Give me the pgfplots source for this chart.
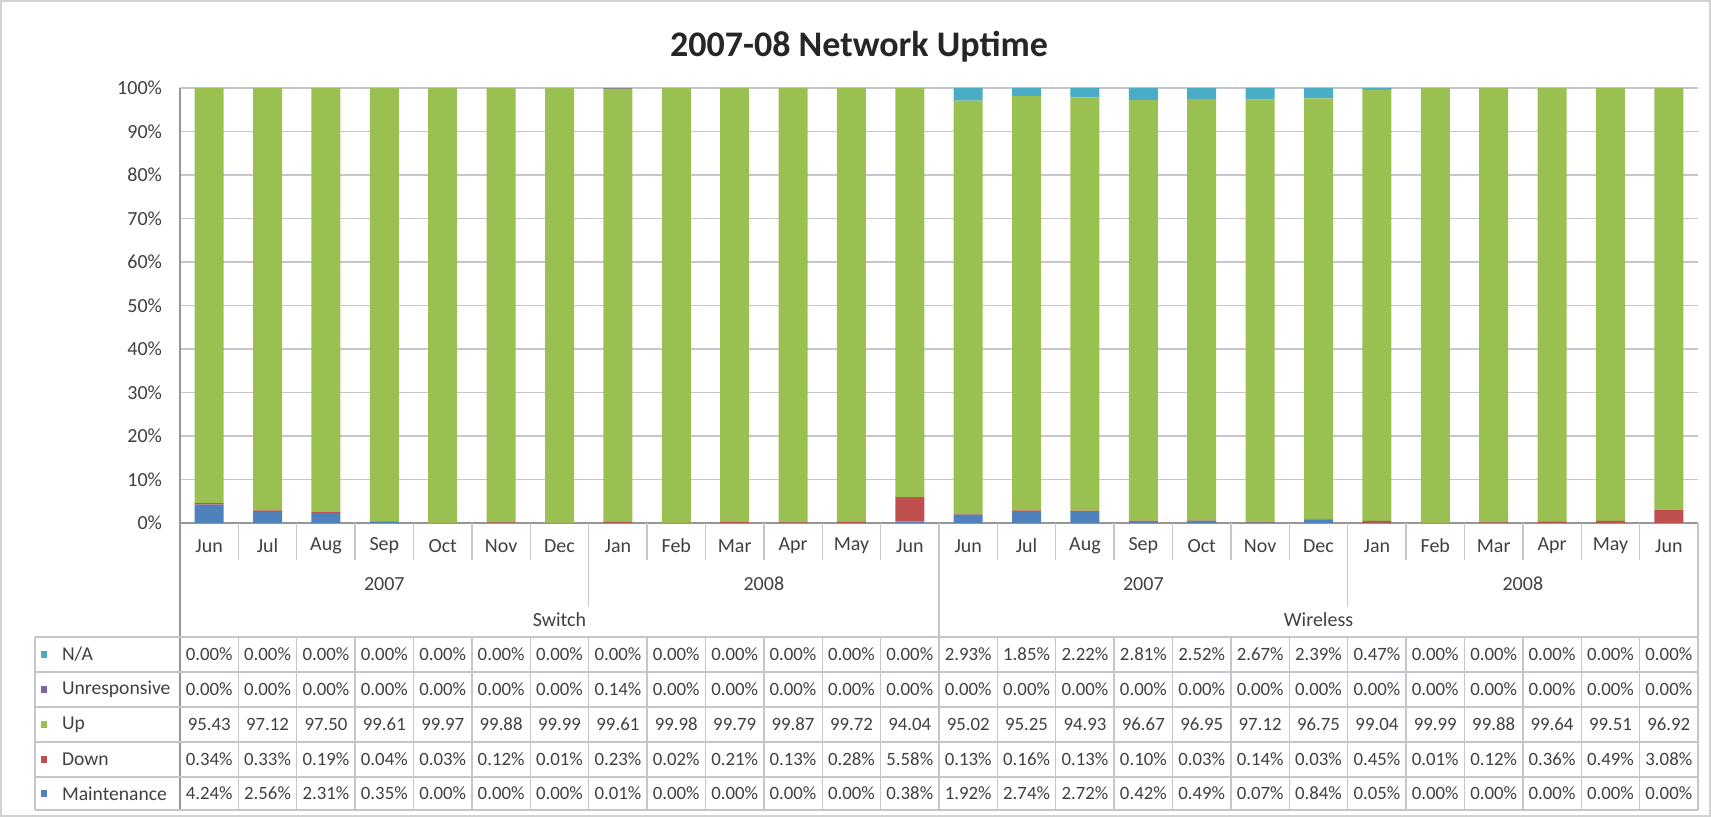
\documentclass[border=0pt]{standalone}
\usepackage{pgfplots}
\pgfplotsset{compat=1.18}
\usepackage{pgfplotstable}
\usepackage{fontspec}
\setmainfont{Carlito}

\definecolor{cMaint}{RGB}{79,129,189}
\definecolor{cDown}{RGB}{192,80,77}
\definecolor{cUp}{RGB}{155,192,82}
\definecolor{cUnr}{RGB}{128,100,162}
\definecolor{cNA}{RGB}{75,172,198}
\definecolor{cGrid}{RGB}{195,198,205}
\definecolor{cLine}{RGB}{150,150,150}
\definecolor{cTxt}{RGB}{64,64,64}

\pgfplotstableread{
month Maint Down Up Unresp NA
Jun 4.24 0.34 95.43 0.00 0.00
Jul 2.56 0.33 97.12 0.00 0.00
Aug 2.31 0.19 97.50 0.00 0.00
Sep 0.35 0.04 99.61 0.00 0.00
Oct 0.00 0.03 99.97 0.00 0.00
Nov 0.00 0.12 99.88 0.00 0.00
Dec 0.00 0.01 99.99 0.00 0.00
Jan 0.01 0.23 99.61 0.14 0.00
Feb 0.00 0.02 99.98 0.00 0.00
Mar 0.00 0.21 99.79 0.00 0.00
Apr 0.00 0.13 99.87 0.00 0.00
May 0.00 0.28 99.72 0.00 0.00
Jun 0.38 5.58 94.04 0.00 0.00
Jun 1.92 0.13 95.02 0.00 2.93
Jul 2.74 0.16 95.25 0.00 1.85
Aug 2.72 0.13 94.93 0.00 2.22
Sep 0.42 0.10 96.67 0.00 2.81
Oct 0.49 0.03 96.95 0.00 2.52
Nov 0.07 0.14 97.12 0.00 2.67
Dec 0.84 0.03 96.75 0.00 2.39
Jan 0.05 0.45 99.04 0.00 0.47
Feb 0.00 0.01 99.99 0.00 0.00
Mar 0.00 0.12 99.88 0.00 0.00
Apr 0.00 0.36 99.64 0.00 0.00
May 0.00 0.49 99.51 0.00 0.00
Jun 0.00 3.08 96.92 0.00 0.00
}\data

\def\colw{29.1923}

\begin{document}
\begin{tikzpicture}
\path[use as bounding box] (0pt,0pt) rectangle (855.5pt,408.5pt);
\draw[gray!35, line width=0.8pt] (0.6pt,0.6pt) rectangle (854.9pt,407.9pt);

\node[font=\fontsize{18}{22}\selectfont\bfseries, text=black!85] at (429.5pt,385pt) {2007-08 Network Uptime};

\begin{axis}[
  at={(90pt,147pt)}, anchor=south west,
  scale only axis, width=759pt, height=217.5pt,
  ybar stacked, bar width=14.5pt,
  xmin=-0.5, xmax=25.5, ymin=0, ymax=100,
  xtick={0,...,25}, xticklabels from table={\data}{month},
  ytick={0,10,...,100},
  yticklabel={\pgfmathprintnumber{\tick}\%},
  /pgf/number format/assume math mode=true,
  ymajorgrids, grid style={draw=cGrid, line width=0.7pt},
  axis x line*=bottom, axis y line*=left,
  axis line style={draw=cLine, line width=0.8pt, -},
  major tick length=0pt,
  tick label style={font=\fontsize{10}{12}\selectfont, text=cTxt},
  xticklabel style={anchor=center, yshift=-11.5pt},
  yticklabel style={anchor=east, xshift=-5.5pt},
  clip=false,
]
\addplot[fill=cMaint, draw=none] table[x expr=\coordindex, y=Maint]{\data};
\addplot[fill=cDown, draw=none] table[x expr=\coordindex, y=Down]{\data};
\addplot[fill=cUp, draw=none] table[x expr=\coordindex, y=Up]{\data};
\addplot[fill=cUnr, draw=none] table[x expr=\coordindex, y=Unresp]{\data};
\addplot[fill=cNA, draw=none] table[x expr=\coordindex, y=NA]{\data};
\end{axis}

% category separators
\foreach \k in {1,...,6,8,9,10,11,12,14,15,16,17,18,19,21,22,23,24,25} {
  \pgfmathsetmacro\xx{90+\k*\colw}
  \draw[cGrid, line width=0.7pt] (\xx pt,147pt) -- (\xx pt,128.5pt);
}
\foreach \k in {7,20} {
  \pgfmathsetmacro\xx{90+\k*\colw}
  \draw[cGrid, line width=0.7pt] (\xx pt,147pt) -- (\xx pt,105pt);
}
\pgfmathsetmacro\xx{90+13*\colw}
\draw[cGrid, line width=0.7pt] (\xx pt,147pt) -- (\xx pt,90pt);
\draw[cLine, line width=0.8pt] (90pt,147pt) -- (90pt,3.5pt);
\draw[cGrid, line width=0.7pt] (849pt,147pt) -- (849pt,3.5pt);

% year and group labels
\begin{scope}[every node/.style={font=\fontsize{10}{12}\selectfont, text=cTxt}]
\node at ({90+3.5*\colw pt},116.5pt) {2007};
\node at ({90+10*\colw pt},116.5pt) {2008};
\node at ({90+16.5*\colw pt},116.5pt) {2007};
\node at ({90+23*\colw pt},116.5pt) {2008};
\node at ({90+6.5*\colw pt},98.5pt) {Switch};
\node at ({90+19.5*\colw pt},98.5pt) {Wireless};
\end{scope}

% data table grid
\foreach \yy in {90,72.5,55,37.5,20,3.5} {
  \draw[cGrid, line width=0.7pt] (17.5pt,\yy pt) -- (849pt,\yy pt);
}
\draw[cGrid, line width=0.7pt] (17.5pt,90pt) -- (17.5pt,3.5pt);
\foreach \k in {1,...,25} {
  \pgfmathsetmacro\xx{90+\k*\colw}
  \draw[cGrid, line width=0.7pt] (\xx pt,90pt) -- (\xx pt,3.5pt);
}

% legend column
\begin{scope}[every node/.style={font=\fontsize{9.8}{12}\selectfont, text=cTxt, anchor=west}]
\fill[cNA] (20.5pt,79.5pt) rectangle ++(3pt,3.5pt);
\node at (27.5pt,81.25pt) {N/A};
\fill[cUnr] (20.5pt,62pt) rectangle ++(3pt,3.5pt);
\node at (27.5pt,63.75pt) {Unresponsive};
\fill[cUp] (20.5pt,44.5pt) rectangle ++(3pt,3.5pt);
\node at (27.5pt,46.25pt) {Up};
\fill[cDown] (20.5pt,27pt) rectangle ++(3pt,3.5pt);
\node at (27.5pt,28.75pt) {Down};
\fill[cMaint] (20.5pt,10pt) rectangle ++(3pt,3.5pt);
\node at (27.5pt,11.75pt) {Maintenance};
\end{scope}

% data table values
\foreach \i in {0,...,25} {
  \pgfmathsetmacro\xc{90+(\i+0.5)*\colw}
  \pgfplotstablegetelem{\i}{NA}\of\data
  \node[font=\fontsize{9.4}{12}\selectfont, text=cTxt] at (\xc pt,81.25pt) {\pgfplotsretval\%};
  \pgfplotstablegetelem{\i}{Unresp}\of\data
  \node[font=\fontsize{9.4}{12}\selectfont, text=cTxt] at (\xc pt,63.75pt) {\pgfplotsretval\%};
  \pgfplotstablegetelem{\i}{Up}\of\data
  \node[font=\fontsize{9.4}{12}\selectfont, text=cTxt] at (\xc pt,46.25pt) {\pgfplotsretval};
  \pgfplotstablegetelem{\i}{Down}\of\data
  \node[font=\fontsize{9.4}{12}\selectfont, text=cTxt] at (\xc pt,28.75pt) {\pgfplotsretval\%};
  \pgfplotstablegetelem{\i}{Maint}\of\data
  \node[font=\fontsize{9.4}{12}\selectfont, text=cTxt] at (\xc pt,11.75pt) {\pgfplotsretval\%};
}
\end{tikzpicture}
\end{document}
